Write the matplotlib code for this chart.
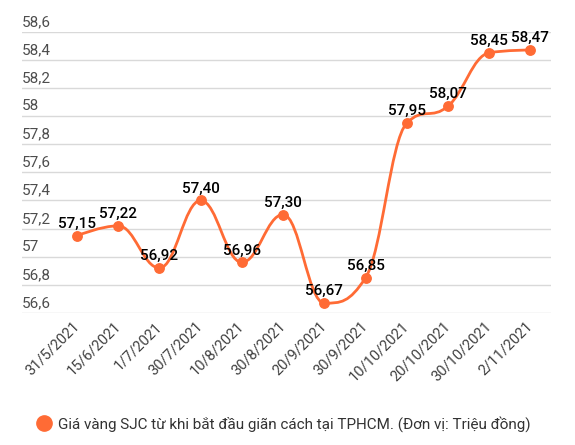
import matplotlib
matplotlib.use("Agg")
import matplotlib.pyplot as plt
import matplotlib.transforms as mtransforms
from matplotlib.path import Path
from matplotlib.patches import PathPatch
from matplotlib.lines import Line2D

plt.rcParams['font.family'] = ['Roboto', 'DejaVu Sans']

# data
dates = ['31/5/2021', '15/6/2021', '1/7/2021', '30/7/2021', '10/8/2021', '30/8/2021',
         '20/9/2021', '30/9/2021', '10/10/2021', '20/10/2021', '30/10/2021', '2/11/2021']
prices = [57.15, 57.22, 56.92, 57.40, 56.96, 57.30, 56.67, 56.85, 57.95, 58.07, 58.45, 58.47]
y_ticks = [56.6, 56.8, 57.0, 57.2, 57.4, 57.6, 57.8, 58.0, 58.2, 58.4, 58.6]
legend_label = 'Giá vàng SJC từ khi bắt đầu giãn cách tại TPHCM. (Đơn vị: Triệu đồng)'

ORANGE = '#ff6b35'
GRID = '#d9d9d9'


def fmt(v, nd=None):
    """Vietnamese style number: comma as decimal separator."""
    if nd is None:
        s = ('%.1f' % v).rstrip('0').rstrip('.')
    else:
        s = '%.*f' % (nd, v)
    return s.replace('.', ',')


def spline_path(xs, ys, smoothing=1.5):
    """Bezier path like a Highcharts 'spline' series."""
    denom = smoothing + 1
    verts = [(xs[0], ys[0])]
    codes = [Path.MOVETO]
    right = [None] * len(xs)
    for i in range(1, len(xs)):
        px, py = xs[i], ys[i]
        lx, ly = xs[i - 1], ys[i - 1]
        lcx, lcy = px, py
        if i < len(xs) - 1:
            nx, ny = xs[i + 1], ys[i + 1]
            lcx = (smoothing * px + lx) / denom
            lcy = (smoothing * py + ly) / denom
            rcx = (smoothing * px + nx) / denom
            rcy = (smoothing * py + ny) / denom
            corr = 0
            if rcx != lcx:
                corr = (rcy - lcy) * (rcx - px) / (rcx - lcx) + py - rcy
            lcy += corr
            rcy += corr
            if lcy > ly and lcy > py:
                lcy = max(ly, py)
                rcy = 2 * py - lcy
            elif lcy < ly and lcy < py:
                lcy = min(ly, py)
                rcy = 2 * py - lcy
            if rcy > ny and rcy > py:
                rcy = max(ny, py)
                lcy = 2 * py - rcy
            elif rcy < ny and rcy < py:
                rcy = min(ny, py)
                lcy = 2 * py - rcy
            right[i] = (rcx, rcy)
        c1 = right[i - 1] if right[i - 1] is not None else (lx, ly)
        verts += [c1, (lcx, lcy), (px, py)]
        codes += [Path.CURVE4] * 3
    return Path(verts, codes)


fig = plt.figure(figsize=(5.75, 4.45), dpi=100)
ax = fig.add_axes([22 / 575, 1 - 313 / 445, (551 - 22) / 575, (313 - 31.7) / 445])

x = list(range(len(dates)))
ax.set_xlim(-1.335, 11.5)
ax.set_ylim(y_ticks[0], y_ticks[-1])

for s in ax.spines.values():
    s.set_visible(False)
ax.set_yticks(y_ticks)
ax.tick_params(axis='y', length=0, labelleft=False)
ax.grid(axis='y', color=GRID, linewidth=1)
ax.set_axisbelow(True)

# y labels sit above their grid line, left aligned
ytrans = mtransforms.offset_copy(ax.get_yaxis_transform(), fig=fig, x=0, y=2, units='points')
for t in y_ticks:
    ax.text(0, t, fmt(t), transform=ytrans, ha='left', va='bottom',
            fontsize=11, color='#4d4d4d', clip_on=False)

ax.set_xticks(x)
ax.set_xticklabels(dates, rotation=45, ha='right', va='center', rotation_mode='anchor',
                   fontsize=10.5, color='#404040')
ax.tick_params(axis='x', length=0, pad=8)

ax.add_patch(PathPatch(spline_path(x, prices), facecolor='none', edgecolor=ORANGE,
                       linewidth=2, zorder=3))
ax.plot(x, prices, 'o', color=ORANGE, markersize=6.8, zorder=4, clip_on=False)

for xi, v in zip(x, prices):
    ax.annotate(fmt(v, 2), (xi, v), xytext=(0, 3.5), textcoords='offset points',
                ha='center', va='bottom', fontsize=11, fontweight='medium',
                color='black', zorder=5)

handle = Line2D([], [], marker='o', linestyle='none', color=ORANGE, markersize=11)
fig.legend([handle], [legend_label], loc='center', bbox_to_anchor=(0.493, 0.047),
           frameon=False, fontsize=11, handletextpad=0.4, labelcolor='#333333',
           handlelength=1.0)

fig.savefig('out.png', dpi=100)
